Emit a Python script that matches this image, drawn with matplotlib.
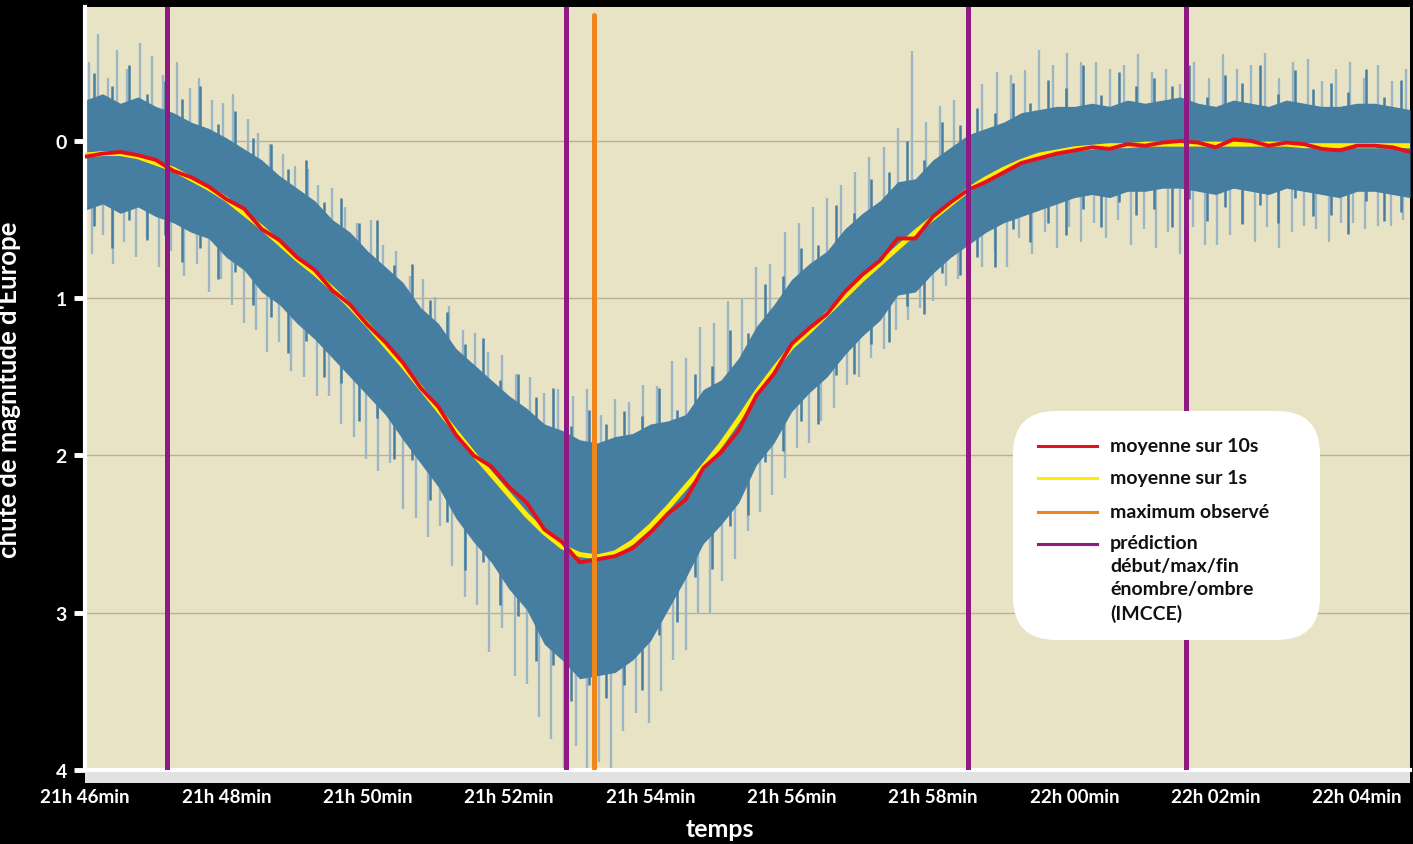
import numpy as np
import matplotlib.pyplot as plt
from matplotlib.patches import FancyBboxPatch, Rectangle

plt.rcParams['font.family'] = ['Lato', 'DejaVu Sans']
plt.rcParams['font.weight'] = 'bold'

# temps en minutes apres 21h00, pas de 15 s
t_moy = np.arange(46, 64.76, 0.25)
t_mi = np.arange(46.125, 64.7, 0.25)

moy_1s = [0.09, 0.08, 0.08, 0.10, 0.14, 0.18, 0.24, 0.30, 0.37, 0.46,
          0.55, 0.65, 0.75, 0.84, 0.94, 1.05, 1.17, 1.30, 1.43, 1.57,
          1.71, 1.85, 1.99, 2.12, 2.25, 2.38, 2.49, 2.58, 2.63, 2.645,
          2.62, 2.55, 2.45, 2.33, 2.20, 2.07, 1.93, 1.77, 1.60, 1.45,
          1.31, 1.21, 1.10, 0.99, 0.88, 0.78, 0.68, 0.58, 0.49, 0.40,
          0.31, 0.24, 0.18, 0.13, 0.09, 0.07, 0.05, 0.04, 0.03, 0.03,
          0.02, 0.02, 0.02, 0.02, 0.02, 0.02, 0.02, 0.02, 0.02, 0.03,
          0.03, 0.03, 0.03, 0.03, 0.03, 0.03]

moy_10s = [0.10, 0.08, 0.07, 0.09, 0.12, 0.19, 0.23, 0.29, 0.37, 0.43,
           0.56, 0.63, 0.74, 0.82, 0.95, 1.04, 1.17, 1.28, 1.41, 1.57,
           1.69, 1.87, 2.00, 2.07, 2.20, 2.30, 2.47, 2.55, 2.68, 2.66,
           2.64, 2.59, 2.49, 2.37, 2.28, 2.08, 1.98, 1.84, 1.62, 1.48,
           1.29, 1.19, 1.10, 0.96, 0.85, 0.76, 0.62, 0.62, 0.48, 0.39,
           0.31, 0.26, 0.20, 0.14, 0.11, 0.08, 0.06, 0.04, 0.05, 0.02,
           0.03, 0.01, 0.00, 0.01, 0.04, -0.01, 0.00, 0.03, 0.01, 0.02,
           0.05, 0.06, 0.03, 0.03, 0.04, 0.07]

# bande dense des mesures brutes (haut / bas)
brut_haut = [-0.26, -0.30, -0.24, -0.28, -0.22, -0.18, -0.12, -0.08, -0.02, 0.05,
             0.12, 0.22, 0.30, 0.38, 0.50, 0.58, 0.70, 0.80, 0.90, 1.06,
             1.16, 1.32, 1.42, 1.52, 1.62, 1.70, 1.80, 1.84, 1.90, 1.92,
             1.88, 1.86, 1.80, 1.78, 1.74, 1.58, 1.52, 1.38, 1.18, 1.04,
             0.88, 0.78, 0.70, 0.56, 0.46, 0.38, 0.26, 0.24, 0.12, 0.04,
             -0.04, -0.08, -0.12, -0.18, -0.20, -0.22, -0.22, -0.24, -0.22, -0.26,
             -0.24, -0.26, -0.28, -0.24, -0.22, -0.26, -0.24, -0.22, -0.26, -0.24,
             -0.22, -0.22, -0.24, -0.24, -0.22, -0.20]
brut_bas = [0.44, 0.40, 0.46, 0.42, 0.48, 0.52, 0.58, 0.62, 0.74, 0.82,
            0.96, 1.04, 1.16, 1.26, 1.38, 1.50, 1.62, 1.74, 1.90, 2.05,
            2.20, 2.40, 2.55, 2.68, 2.85, 2.98, 3.20, 3.30, 3.42, 3.40,
            3.38, 3.30, 3.18, 2.98, 2.78, 2.56, 2.44, 2.30, 2.06, 1.92,
            1.72, 1.60, 1.50, 1.36, 1.24, 1.14, 0.98, 0.96, 0.84, 0.74,
            0.66, 0.58, 0.52, 0.48, 0.44, 0.40, 0.36, 0.34, 0.36, 0.32,
            0.32, 0.30, 0.30, 0.32, 0.34, 0.30, 0.32, 0.34, 0.30, 0.32,
            0.34, 0.36, 0.32, 0.32, 0.34, 0.36]

# pointes sombres entre deux echantillons (haut / bas)
sombre_haut = [-0.43, -0.35, -0.48, -0.30, -0.38, -0.27, -0.35, -0.11, -0.19, -0.02,
               0.02, 0.18, 0.12, 0.39, 0.36, 0.52, 0.50, 0.79, 0.78, 1.01,
               1.09, 1.29, 1.25, 1.52, 1.48, 1.63, 1.57, 1.81, 1.71, 1.80,
               1.72, 1.75, 1.57, 1.71, 1.48, 1.43, 1.20, 1.22, 0.91, 0.86,
               0.68, 0.66, 0.41, 0.46, 0.24, 0.20, 0.00, 0.12, -0.12, -0.10,
               -0.21, -0.18, -0.37, -0.24, -0.39, -0.34, -0.48, -0.29, -0.44, -0.35,
               -0.40, -0.35, -0.48, -0.28, -0.42, -0.37, -0.48, -0.30, -0.45, -0.33,
               -0.37, -0.31, -0.46, -0.28, -0.39]
sombre_bas = [0.54, 0.68, 0.50, 0.63, 0.60, 0.77, 0.68, 0.88, 0.83, 1.04,
              1.12, 1.35, 1.27, 1.50, 1.54, 1.78, 1.76, 2.02, 2.03, 2.28,
              2.42, 2.73, 2.68, 2.95, 3.02, 3.31, 3.33, 3.56, 3.46, 3.54,
              3.46, 3.49, 3.14, 3.06, 2.77, 2.72, 2.45, 2.38, 2.04, 1.97,
              1.78, 1.80, 1.49, 1.48, 1.29, 1.28, 1.05, 1.10, 0.84, 0.85,
              0.74, 0.80, 0.56, 0.64, 0.52, 0.60, 0.43, 0.55, 0.39, 0.47,
              0.43, 0.55, 0.37, 0.51, 0.42, 0.53, 0.41, 0.52, 0.36, 0.48,
              0.47, 0.59, 0.38, 0.51, 0.45]

# pics isoles vers le haut et vers le bas (instant, valeur)
pic_haut_t = [46.05, 46.18, 46.32, 46.45, 46.60, 46.78, 46.95, 47.10, 47.30, 47.48,
              47.62, 47.80, 47.95, 48.10, 48.30, 48.45, 48.62, 48.80, 48.97, 49.15,
              49.30, 49.50, 49.68, 49.85, 50.05, 50.22, 50.40, 50.60, 50.78, 50.95,
              51.15, 51.35, 51.52, 51.70, 51.90, 52.10, 52.30, 52.50, 52.70, 52.90,
              53.10, 53.30, 53.50, 53.70, 53.90, 54.10, 54.30, 54.50, 54.70, 54.90,
              55.10, 55.30, 55.50, 55.70, 55.90, 56.10, 56.30, 56.50, 56.70, 56.90,
              57.10, 57.30, 57.50, 57.70, 57.90, 58.10, 58.30, 58.50, 58.70, 58.90,
              59.10, 59.30, 59.50, 59.70, 59.90, 60.10, 60.30, 60.50, 60.70, 60.90,
              61.10, 61.30, 61.50, 61.70, 61.90, 62.10, 62.30, 62.50, 62.70, 62.90,
              63.10, 63.30, 63.50, 63.70, 63.90, 64.10, 64.30, 64.50, 64.70]
pic_haut_v = [-0.50, -0.68, -0.40, -0.58, -0.46, -0.62, -0.54, -0.42, -0.50, -0.34,
              -0.40, -0.26, -0.24, -0.30, -0.14, -0.05, 0.02, 0.08, 0.16, 0.18,
              0.28, 0.30, 0.42, 0.52, 0.50, 0.66, 0.70, 0.86, 0.88, 0.99,
              1.05, 1.20, 1.22, 1.34, 1.36, 1.48, 1.50, 1.60, 1.58, 1.62,
              1.58, 1.74, 1.64, 1.66, 1.55, 1.56, 1.40, 1.38, 1.18, 1.16,
              1.02, 1.00, 0.80, 0.78, 0.58, 0.52, 0.42, 0.36, 0.28, 0.20,
              0.10, 0.04, -0.08, -0.57, -0.12, -0.22, -0.26, -0.28, -0.36, -0.44,
              -0.42, -0.45, -0.58, -0.48, -0.56, -0.50, -0.50, -0.46, -0.48, -0.55,
              -0.44, -0.46, -0.36, -0.50, -0.40, -0.55, -0.46, -0.48, -0.56, -0.40,
              -0.50, -0.52, -0.38, -0.46, -0.50, -0.40, -0.48, -0.38, -0.46]
pic_bas_t = [46.10, 46.25, 46.40, 46.55, 46.72, 46.88, 47.05, 47.22, 47.40, 47.58,
             47.75, 47.92, 48.08, 48.25, 48.42, 48.58, 48.75, 48.92, 49.10, 49.28,
             49.45, 49.62, 49.80, 49.98, 50.15, 50.32, 50.50, 50.68, 50.85, 51.02,
             51.20, 51.38, 51.55, 51.72, 51.90, 52.08, 52.25, 52.42, 52.60, 52.78,
             52.95, 53.10, 53.28, 53.45, 53.62, 53.80, 53.98, 54.15, 54.32, 54.50,
             54.68, 54.85, 55.02, 55.20, 55.38, 55.55, 55.72, 55.90, 56.08, 56.25,
             56.42, 56.60, 56.78, 56.95, 57.12, 57.30, 57.48, 57.65, 57.82, 58.00,
             58.18, 58.35, 58.52, 58.70, 58.88, 59.05, 59.22, 59.40, 59.58, 59.75,
             59.92, 60.10, 60.28, 60.45, 60.62, 60.80, 60.98, 61.15, 61.32, 61.50,
             61.68, 61.85, 62.02, 62.20, 62.38, 62.55, 62.72, 62.90, 63.08, 63.25,
             63.42, 63.60, 63.78, 63.95, 64.12, 64.30, 64.48, 64.65]
pic_bas_v = [0.72, 0.60, 0.78, 0.64, 0.74, 0.62, 0.80, 0.70, 0.86, 0.78,
             0.96, 0.88, 1.04, 1.16, 1.20, 1.34, 1.28, 1.46, 1.50, 1.62,
             1.62, 1.80, 1.88, 2.02, 2.10, 2.05, 2.34, 2.40, 2.52, 2.45,
             2.70, 2.90, 2.95, 3.25, 3.10, 3.40, 3.45, 3.66, 3.80, 4.00,
             3.85, 4.00, 3.95, 4.00, 3.75, 3.64, 3.70, 3.50, 3.30, 3.24,
             3.00, 3.00, 2.80, 2.66, 2.48, 2.36, 2.25, 2.14, 1.95, 1.92,
             1.78, 1.70, 1.55, 1.50, 1.38, 1.32, 1.20, 1.14, 1.06, 1.02,
             0.92, 0.88, 0.80, 0.80, 0.70, 0.80, 0.62, 0.72, 0.58, 0.68,
             0.55, 0.64, 0.52, 0.62, 0.50, 0.66, 0.56, 0.68, 0.58, 0.72,
             0.55, 0.66, 0.66, 0.60, 0.52, 0.64, 0.55, 0.68, 0.58, 0.54,
             0.56, 0.64, 0.52, 0.52, 0.56, 0.54, 0.54, 0.50]

max_observe = 53.20
predictions = [47.16, 52.81, 58.49, 61.58]

xticks = [46, 48, 50, 52, 54, 56, 58, 60, 62, 64]
xlabels = ['21h 46min', '21h 48min', '21h 50min', '21h 52min', '21h 54min',
           '21h 56min', '21h 58min', '22h 00min', '22h 02min', '22h 04min']

rouge = '#E3111B'
jaune = '#FFEE00'
orange = '#F08519'
violet = '#8E1A82'
bleu = '#467EA2'
bleu_clair = '#9DB6C5'

W, H = 1413, 845
fig = plt.figure(figsize=(W / 100, H / 100), dpi=100, facecolor='black')
ax = fig.add_axes([85 / W, (H - 771) / H, (1410 - 85) / W, (771 - 8) / H])
ax.set_facecolor('#E9E3C5')

base_h = np.interp(pic_haut_t, t_moy, moy_1s)
base_b = np.interp(pic_bas_t, t_moy, moy_1s)
ax.vlines(pic_haut_t, base_h, pic_haut_v, color=bleu_clair, lw=1.7, zorder=1)
ax.vlines(pic_bas_t, base_b, pic_bas_v, color=bleu_clair, lw=1.7, zorder=1)
ax.vlines(t_mi, sombre_haut, sombre_bas, color=bleu, lw=1.8, zorder=2)
ax.fill_between(t_moy, brut_haut, brut_bas, color=bleu, lw=0, zorder=2)

ax.plot(t_moy, moy_1s, color=jaune, lw=3.6, zorder=3, solid_capstyle='round')
ax.plot(t_moy, moy_10s, color=rouge, lw=2.8, zorder=4, solid_joinstyle='round')

for p in predictions:
    ax.axvline(p, color=violet, lw=3.6, zorder=5)
ax.vlines(max_observe, -0.80, 3.99, color=orange, lw=3.6, zorder=5, capstyle='round')

ax.set_xlim(46, 64.75)
ax.set_ylim(4.0, -0.852)
ax.set_yticks([0, 1, 2, 3, 4])
ax.set_yticklabels(['0', '1', '2', '3', '4'])
ax.set_xticks(xticks)
ax.set_xticklabels(xlabels)
ax.yaxis.grid(True, color='#B9B095', lw=1)
ax.set_axisbelow(True)

for s in ['top', 'right']:
    ax.spines[s].set_visible(False)
ax.spines['left'].set_color('white')
ax.spines['left'].set_linewidth(3)
ax.spines['bottom'].set_color('white')
ax.spines['bottom'].set_linewidth(3)
ax.tick_params(axis='y', colors='white', length=8, width=3.5, pad=5, labelsize=14)
ax.tick_params(axis='x', colors='white', length=0, pad=13, labelsize=13.5)

ax.set_ylabel("chute de magnitude d'Europe", color='white', fontsize=18.5, fontweight='bold')
ax.yaxis.set_label_coords(-0.048, 0.5)
ax.set_xlabel('temps', color='white', fontsize=18, fontweight='bold')
ax.xaxis.set_label_coords(0.479, -0.062)

# bande claire sous l'axe des temps
fig.patches.append(Rectangle((85 / W, (H - 784) / H), (1410 - 85) / W, 11 / H,
                             transform=fig.transFigure, facecolor='#E2E2E2',
                             edgecolor='none', zorder=0))

# legende arrondie
lg = fig.add_axes([1005 / W, (H - 650) / H, 325 / W, 245 / H])
lg.set_xlim(1005, 1330)
lg.set_ylim(650, 405)
lg.axis('off')
lg.add_patch(FancyBboxPatch((1013, 412), 307, 229, boxstyle='round,pad=0,rounding_size=43',
                            facecolor='white', edgecolor='none'))
entrees = [(rouge, 'moyenne sur 10s', 446.5),
           (jaune, 'moyenne sur 1s', 479),
           (orange, 'maximum observé', 512.5),
           (violet, None, 544.5)]
for c, lab, y in entrees:
    lg.plot([1038, 1097], [y, y], color=c, lw=2.2)
    if lab:
        lg.text(1110, y, lab, va='center', ha='left', fontsize=14, color='#111111')
lg.text(1110, 535.5, 'prédiction\ndébut/max/fin\nénombre/ombre\n(IMCCE)', va='top', ha='left',
        fontsize=14, color='#111111', linespacing=1.42)

fig.savefig('out.png', dpi=100, facecolor='black')
